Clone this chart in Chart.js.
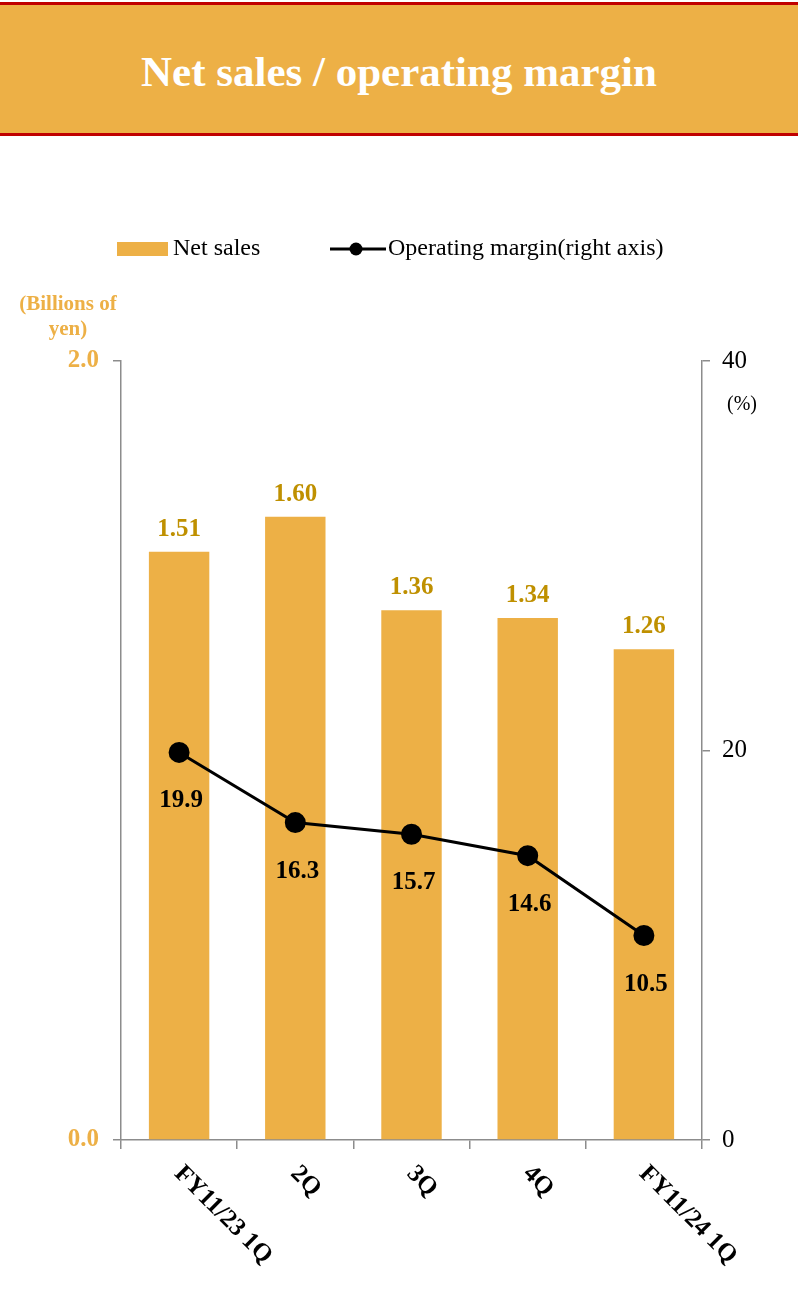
<!DOCTYPE html>
<html><head><meta charset="utf-8">
<script src="https://cdn.jsdelivr.net/npm/chart.js@4.4.1/dist/chart.umd.min.js"></script>
<style>
html,body{margin:0;padding:0;background:#fff;}
#wrap{position:relative;width:798px;height:1311px;overflow:hidden;}
#hdr{position:absolute;left:0;top:2px;width:798px;height:128px;background:#EDB046;border-top:3px solid #C00000;border-bottom:3px solid #C00000;
 color:#fff;font:bold 43px "Liberation Serif","Times New Roman",serif;text-align:center;line-height:134px;}
canvas{position:absolute;left:0;top:0;}
</style></head>
<body><div id="wrap"><canvas id="c" width="798" height="1311"></canvas><div id="hdr">Net sales / operating margin</div></div>
<script>
const categories = ["FY11/23 1Q", "2Q", "3Q", "4Q", "FY11/24 1Q"];
const netSales = [1.51, 1.60, 1.36, 1.34, 1.26];
const opMargin = [19.9, 16.3, 15.7, 14.6, 10.5];
const leftTicks = [0, 2];
const rightTicks = [0, 20, 40];

const SERIF = '"Liberation Serif","Times New Roman",serif';
const GOLD = '#EDB046';
const DARKGOLD = '#BF9000';
const AXIS = '#8C8C8C';

const overlay = {
  id: 'overlay',
  afterDraw(chart) {
    const ctx = chart.ctx;
    const xs = chart.scales.x;
    ctx.save();
    // legend
    ctx.fillStyle = GOLD;
    ctx.fillRect(117, 242, 51, 14);
    ctx.fillStyle = '#000';
    ctx.font = '24px ' + SERIF;
    ctx.textBaseline = 'middle';
    ctx.textAlign = 'left';
    ctx.fillText('Net sales', 173, 249);
    ctx.strokeStyle = '#000'; ctx.lineWidth = 3;
    ctx.beginPath(); ctx.moveTo(330, 249); ctx.lineTo(386, 249); ctx.stroke();
    ctx.beginPath(); ctx.arc(356, 249, 6.5, 0, Math.PI * 2); ctx.fill();
    ctx.fillText('Operating margin(right axis)', 388, 249);
    // axis titles
    ctx.fillStyle = GOLD;
    ctx.font = 'bold 21px ' + SERIF;
    ctx.textAlign = 'center';
    ctx.fillText('(Billions of', 68, 305);
    ctx.fillText('yen)', 68, 330);
    ctx.fillStyle = '#000';
    ctx.font = '20px ' + SERIF;
    ctx.fillText('(%)', 742, 405);
    // bar labels
    const mBar = chart.getDatasetMeta(1);
    ctx.fillStyle = DARKGOLD;
    ctx.font = 'bold 25px ' + SERIF;
    ctx.textBaseline = 'alphabetic';
    mBar.data.forEach((el, i) => {
      ctx.fillText(netSales[i].toFixed(2), el.x, el.y - 16);
    });
    // line labels
    const mLine = chart.getDatasetMeta(0);
    ctx.fillStyle = '#000';
    mLine.data.forEach((el, i) => {
      ctx.fillText(opMargin[i].toFixed(1), el.x + 2, el.y + 55);
    });
    // x tick labels rotated clockwise
    ctx.font = 'bold 25px ' + SERIF;
    ctx.textAlign = 'left';
    ctx.textBaseline = 'middle';
    categories.forEach((c, i) => {
      const x = xs.getPixelForValue(i);
      ctx.save();
      ctx.translate(x - 1, xs.top + 30);
      ctx.rotate(Math.PI / 4);
      ctx.fillText(c, 0, 0);
      ctx.restore();
    });
    ctx.restore();
  }
};

new Chart(document.getElementById('c'), {
  data: {
    labels: categories,
    datasets: [
      { type: 'line', label: 'Operating margin(right axis)', data: opMargin, yAxisID: 'y1',
        borderColor: '#000', backgroundColor: '#000', borderWidth: 3, pointRadius: 9,
        pointBackgroundColor: '#000', pointBorderColor: '#000', tension: 0, order: 0 },
      { type: 'bar', label: 'Net sales', data: netSales, yAxisID: 'y',
        backgroundColor: GOLD, barPercentage: 0.52, categoryPercentage: 1.0, order: 1 }
    ]
  },
  options: {
    responsive: false, animation: false, devicePixelRatio: 1,
    layout: { padding: { top: 361, left: 0, right: 0, bottom: 0 } },
    plugins: { legend: { display: false }, tooltip: { enabled: false }, title: { display: false } },
    scales: {
      x: {
        offset: true,
        grid: { offset: true, drawOnChartArea: false, drawTicks: true, tickLength: 9, color: AXIS, lineWidth: 1.5 },
        border: { display: true, color: AXIS, width: 1.5 },
        ticks: { display: false },
        afterFit(s) { s.height = 171; }
      },
      y: {
        position: 'left', min: 0, max: 2,
        afterBuildTicks(s) { s.ticks = leftTicks.map(v => ({ value: v })); },
        grid: { drawOnChartArea: false, drawTicks: true, tickLength: 8, color: AXIS, lineWidth: 1.5 },
        border: { display: true, color: AXIS, width: 1.5 },
        ticks: { color: GOLD, font: { family: SERIF, size: 25, weight: 'bold' }, padding: 14,
          callback: v => Number(v).toFixed(1) },
        afterFit(s) { s.width = 121; }
      },
      y1: {
        position: 'right', min: 0, max: 40,
        afterBuildTicks(s) { s.ticks = rightTicks.map(v => ({ value: v })); },
        grid: { drawOnChartArea: false, drawTicks: true, tickLength: 8, color: AXIS, lineWidth: 1.5 },
        border: { display: true, color: AXIS, width: 1.5 },
        ticks: { color: '#000', font: { family: SERIF, size: 25 }, padding: 12,
          callback: v => String(v) },
        afterFit(s) { s.width = 96; }
      }
    }
  },
  plugins: [overlay]
});
</script></body></html>
